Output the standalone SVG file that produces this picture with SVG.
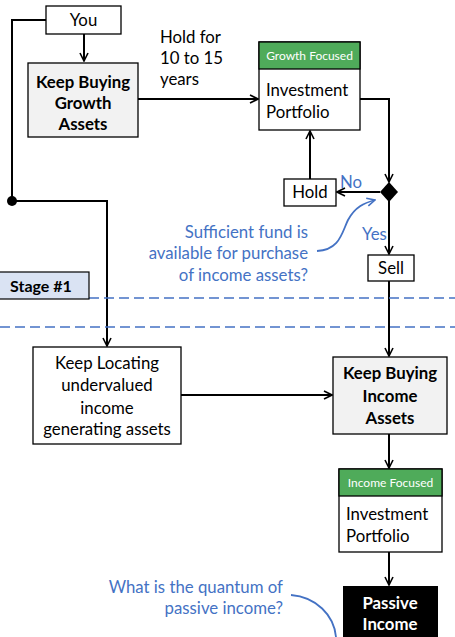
<svg xmlns="http://www.w3.org/2000/svg" width="455" height="637" viewBox="0 0 455 637">
<defs>
<marker id="arr" viewBox="0 0 10 10" refX="9" refY="5" markerWidth="10" markerHeight="10" markerUnits="userSpaceOnUse" orient="auto">
<path d="M1,1 L9,5 L1,9" fill="none" stroke="#000" stroke-width="1.6"/>
</marker>
<marker id="barr" viewBox="0 0 10 10" refX="9" refY="5" markerWidth="10" markerHeight="10" markerUnits="userSpaceOnUse" orient="auto">
<path d="M1,1 L9,5 L1,9" fill="none" stroke="#4472C4" stroke-width="1.6"/>
</marker>
</defs>
<style>
text{font-family:Lato,"Liberation Sans",sans-serif;font-size:16.8px;fill:#000}
.box{fill:#fff;stroke:#000;stroke-width:1.3}
.grey{fill:#f2f2f2;stroke:#000;stroke-width:1.3}
.green{fill:#4fab5a;stroke:#000;stroke-width:1.3}
.b{font-weight:bold}
.c{text-anchor:middle}
.r{text-anchor:end}
.hdr{font-size:12px;fill:#fff;text-anchor:middle}
.blue{fill:#4472C4}
.conn{fill:none;stroke:#000;stroke-width:2}
.dash{stroke:#4472C4;stroke-width:1.6;stroke-dasharray:10 5}
</style>
<rect width="455" height="637" fill="#fff"/>
<g id="connectors">
<path class="conn" d="M84,34 V61" marker-end="url(#arr)"/>
<path class="conn" d="M46,20 H12 V201 H107 V346" marker-end="url(#arr)"/>
<path class="conn" d="M138,99 H258" marker-end="url(#arr)"/>
<path class="conn" d="M360,99 H389 V182" marker-end="url(#arr)"/>
<path class="conn" d="M380,192 H337" marker-end="url(#arr)"/>
<path class="conn" d="M310,179 V131" marker-end="url(#arr)"/>
<path class="conn" d="M389,201 V254" marker-end="url(#arr)"/>
<path class="conn" d="M389,281 V356" marker-end="url(#arr)"/>
<path class="conn" d="M181,395 H332" marker-end="url(#arr)"/>
<path class="conn" d="M389,434 V468" marker-end="url(#arr)"/>
<path class="conn" d="M389,552 V585" marker-end="url(#arr)"/>
<circle cx="12" cy="201" r="5" fill="#000"/>
<path d="M317,251 C340,250 342,232 348,220 C355,207 364,203 375,200" fill="none" stroke="#4472C4" stroke-width="1.8" marker-end="url(#barr)"/>
<path d="M291,595 C316,597 334,615 336,637" fill="none" stroke="#4472C4" stroke-width="1.8"/>
</g>
<g id="stage">
<line class="dash" x1="89" y1="298" x2="455" y2="298"/>
<line class="dash" x1="0" y1="327" x2="455" y2="327"/>
<rect x="-1" y="272" width="90" height="27" fill="#dae3f3" stroke="#000" stroke-width="1.2"/>
<text x="10" y="292" class="b" style="font-size:16px">Stage #1</text>
</g>
<g id="you">
<rect class="box" x="46" y="6" width="75" height="28"/>
<text x="83.5" y="26" class="c">You</text>
</g>
<g id="growth-assets">
<rect class="grey" x="28" y="63" width="110" height="74"/>
<text x="83" y="88" class="c b">Keep Buying</text>
<text x="83" y="109" class="c b">Growth</text>
<text x="83" y="130" class="c b">Assets</text>
</g>
<g id="hold-label">
<text x="160" y="43">Hold for</text>
<text x="160" y="64">10 to 15</text>
<text x="160" y="85">years</text>
</g>
<g id="growth-portfolio">
<rect class="box" x="259" y="42" width="101" height="88"/>
<rect class="green" x="259" y="42" width="101" height="27"/>
<text x="309.5" y="60" class="hdr">Growth Focused</text>
<text x="266" y="96">Investment</text>
<text x="266" y="118">Portfolio</text>
</g>
<g id="decision">
<path d="M389,182 L398,192 L389,202 L380,192 Z" fill="#000"/>
<text x="340" y="188" class="blue">No</text>
<text x="362" y="240" class="blue">Yes</text>
</g>
<g id="hold">
<rect class="box" x="284" y="179" width="52" height="27"/>
<text x="310" y="198" class="c">Hold</text>
</g>
<g id="sell">
<rect class="box" x="368" y="255" width="46" height="26"/>
<text x="391" y="274" class="c">Sell</text>
</g>
<g id="question1">
<text x="308" y="238" class="r blue">Sufficient fund is</text>
<text x="308" y="259" class="r blue">available for purchase</text>
<text x="308" y="281" class="r blue">of income assets?</text>
</g>
<g id="locating">
<rect class="box" x="33" y="347" width="148" height="97"/>
<text x="107" y="369" class="c">Keep Locating</text>
<text x="107" y="391" class="c">undervalued</text>
<text x="107" y="414" class="c">income</text>
<text x="107" y="435" class="c">generating assets</text>
</g>
<g id="income-assets">
<rect class="grey" x="333" y="357" width="114" height="77"/>
<text x="390" y="379" class="c b">Keep Buying</text>
<text x="390" y="402" class="c b">Income</text>
<text x="390" y="424" class="c b">Assets</text>
</g>
<g id="income-portfolio">
<rect class="box" x="339" y="469" width="103" height="83"/>
<rect class="green" x="339" y="469" width="103" height="27"/>
<text x="390.5" y="487" class="hdr">Income Focused</text>
<text x="346" y="520">Investment</text>
<text x="346" y="542">Portfolio</text>
</g>
<g id="passive">
<rect x="343" y="586" width="95" height="55" fill="#000"/>
<text x="390" y="609" class="c b" style="fill:#fff">Passive</text>
<text x="390" y="630" class="c b" style="fill:#fff">Income</text>
</g>
<g id="question2">
<text x="283" y="593" class="r blue">What is the quantum of</text>
<text x="283" y="614" class="r blue">passive income?</text>
</g>
</svg>
